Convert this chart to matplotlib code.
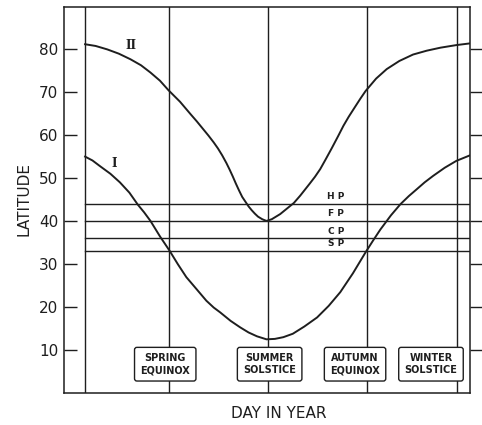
import matplotlib
matplotlib.use('Agg')
import matplotlib.pyplot as plt

####################################################################################################################
# Values (day of year, latitude in degrees)
days_II = [0, 10, 21, 32, 43, 53, 62, 71, 79, 90, 100, 106, 111, 117, 122, 126, 130, 134, 137, 140, 143, 146, 149,
           152, 155, 158, 161, 164, 168, 172, 177, 185, 192, 198, 204, 213, 218, 223, 228, 234, 240, 245, 250, 256,
           261, 266, 276, 286, 298, 311, 324, 337, 352, 365]
lat_II  = [81.2, 80.8, 80.0, 79.0, 77.7, 76.3, 74.6, 72.7, 70.5, 67.8, 64.9, 63.2, 61.7, 59.9, 58.3, 56.9, 55.3,
           53.5, 52.0, 50.4, 48.7, 47.1, 45.6, 44.5, 43.4, 42.5, 41.7, 41.0, 40.4, 40.0, 40.4, 41.6, 43.0, 44.2,
           45.9, 48.7, 50.3, 52.1, 54.3, 57.0, 59.8, 62.2, 64.3, 66.6, 68.5, 70.3, 73.2, 75.4, 77.3, 78.8, 79.7,
           80.4, 81.0, 81.4]

days_I = [0, 7, 14, 24, 33, 42, 50, 56, 62, 71, 80, 88, 96, 105, 115, 122, 128, 138, 147, 155, 163, 172, 180,
          188, 197, 208, 220, 231, 242, 254, 266, 273, 280, 290, 299, 307, 315, 322, 330, 341, 352, 365]
lat_I  = [55.0, 54.1, 52.8, 51.0, 49.0, 46.6, 43.8, 42.0, 40.0, 36.4, 33.1, 29.9, 26.9, 24.3, 21.4, 19.8, 18.7,
          16.7, 15.2, 14.0, 13.1, 12.4, 12.5, 12.9, 13.7, 15.4, 17.5, 20.2, 23.4, 27.8, 32.7, 35.4, 38.0, 41.3,
          43.9, 45.8, 47.5, 49.0, 50.5, 52.4, 54.0, 55.3]

grid_days = [0, 80, 173, 267, 353]
event_names = ['SPRING\nEQUINOX', 'SUMMER\nSOLSTICE', 'AUTUMN\nEQUINOX', 'WINTER\nSOLSTICE']
event_label_days = [76, 175, 256, 328]

band_names = ['H P', 'F P', 'C P', 'S P']
band_lats = [44, 40, 36, 33]

lat_ticks = [10, 20, 30, 40, 50, 60, 70, 80]

####################################################################################################################
ink = '#1e1e1e'
fig = plt.figure(figsize=(4.82, 4.25), dpi=100)
ax = fig.add_axes([64/482, 1 - 392.5/425, 406/482, 386/425])
ax.set_xlim(-20, 365)
ax.set_ylim(0, 90)

for d in grid_days:
	ax.axvline(d, color=ink, lw=1.0, zorder=1)
for lat in band_lats:
	ax.plot([0, 365], [lat, lat], color=ink, lw=1.0, zorder=1)
for name, lat in zip(band_names, band_lats):
	ax.text(238, lat + 0.6, name, ha='center', va='bottom', fontsize=6.5, fontweight='bold', color=ink)

ax.plot(days_II, lat_II, color=ink, lw=1.4, zorder=2, solid_joinstyle='round')
ax.plot(days_I, lat_I, color=ink, lw=1.4, zorder=2, solid_joinstyle='round')
ax.text(43.6, 80.8, 'II', ha='center', va='center', fontsize=8.5, fontweight='bold', family='DejaVu Serif', color=ink)
ax.text(27.5, 53.5, 'I', ha='center', va='center', fontsize=8.5, fontweight='bold', family='DejaVu Serif', color=ink)

for name, d in zip(event_names, event_label_days):
	ax.text(d, 6.6, name, ha='center', va='center', fontsize=7, fontweight='bold', color=ink, linespacing=1.25,
			zorder=3, bbox=dict(boxstyle='round,pad=0.6,rounding_size=0.25', fc='white', ec=ink, lw=1.0))

####################################################################################################################
# axes decoration
for s in ax.spines.values():
	s.set_color(ink)
	s.set_linewidth(1.1)
ax.set_xticks([])
ax.set_yticks(lat_ticks)
ax.set_yticklabels([str(v) for v in lat_ticks], fontsize=11, color=ink)
ax.tick_params(axis='y', direction='in', length=9, width=1.0, color=ink, pad=4, right=True)
ax.tick_params(axis='y', which='both', labelright=False)
for t in ax.yaxis.get_major_ticks():
	t.tick2line.set_marker(matplotlib.lines.TICKRIGHT)

fig.text(24/482, 1 - 199/425, 'LATITUDE', rotation=90, ha='center', va='center', fontsize=11, color=ink)
fig.text(279/482, 1 - 413.5/425, 'DAY IN YEAR', ha='center', va='center', fontsize=11, color=ink)

plt.savefig('out.png', dpi=100)
